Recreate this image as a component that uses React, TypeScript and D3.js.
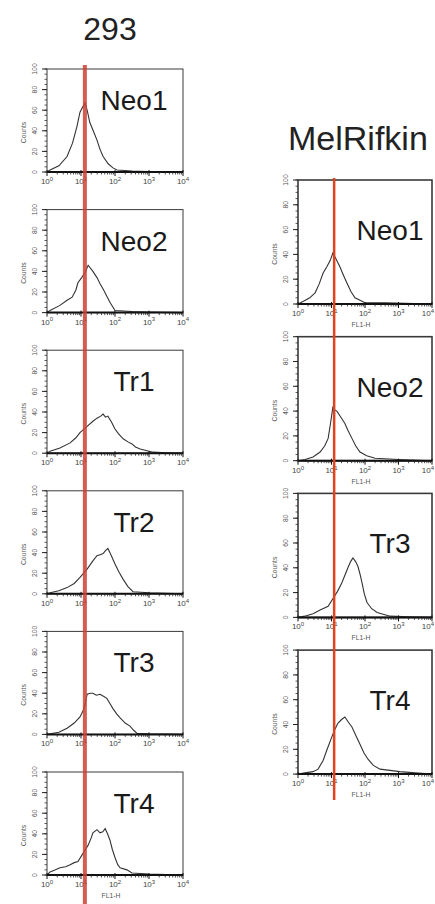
import React, { useRef, useEffect } from 'react';
import * as d3 from 'd3';

// panel names, column by column
const titles293 = ['Neo1', 'Neo2', 'Tr1', 'Tr2', 'Tr3', 'Tr4'];
const titlesMel = ['Neo1', 'Neo2', 'Tr3', 'Tr4'];

const xTickExps = [0, 1, 2, 3, 4];
const yTicks = [0, 20, 40, 60, 80, 100];

// marker (red line) position in FL1-H units
const gate293 = 13;
const gateMel = 12;

// histograms: [log10(FL1-H), counts]
const h293Neo1 = [[0, 0], [0.09, 2], [0.35, 6], [0.59, 15], [0.75, 28], [0.88, 44], [0.97, 58], [1.05, 63], [1.12, 67], [1.18, 60], [1.26, 48], [1.36, 40], [1.47, 31], [1.56, 22], [1.65, 15], [1.8, 8], [1.94, 4], [2.06, 2], [2.5, 1], [3, 0.5], [4, 0]];
const h293Neo2 = [[0, 0], [0.09, 2], [0.38, 7], [0.59, 12], [0.74, 15], [0.85, 22], [0.91, 29], [1.02, 34], [1.12, 39], [1.21, 46], [1.35, 40], [1.47, 34], [1.56, 28], [1.65, 23], [1.85, 10], [2.0, 2], [2.5, 1], [3, 0.5], [4, 0]];
const h293Tr1 = [[0, 0], [0.09, 2], [0.38, 5], [0.68, 10], [0.85, 15], [0.97, 20], [1.18, 26], [1.35, 31], [1.47, 34], [1.58, 36], [1.65, 38], [1.72, 35], [1.79, 36], [1.9, 30], [1.99, 24], [2.1, 19], [2.24, 14], [2.38, 11], [2.5, 9], [2.6, 6], [2.74, 4], [3.12, 1], [3.5, 0.5], [4, 0]];
const h293Tr2 = [[0, 0], [0.09, 1], [0.35, 3], [0.59, 6], [0.8, 10], [0.97, 16], [1.18, 24], [1.35, 32], [1.47, 37], [1.56, 38], [1.65, 39], [1.72, 42], [1.79, 44], [1.88, 38], [2.0, 29], [2.12, 21], [2.24, 14], [2.38, 7], [2.53, 2], [3, 1], [4, 0]];
const h293Tr3 = [[0, 0], [0.09, 0.5], [0.35, 2], [0.59, 6], [0.8, 11], [0.97, 17], [1.06, 23], [1.12, 29], [1.18, 39], [1.27, 40], [1.35, 40], [1.45, 38], [1.56, 39], [1.66, 37], [1.76, 35], [1.85, 30], [1.94, 25], [2.05, 20], [2.15, 16], [2.3, 11], [2.44, 8], [2.55, 4], [2.65, 1], [3, 0.5], [4, 0]];
const h293Tr4 = [[0, 0], [0.09, 3], [0.25, 5], [0.38, 7], [0.55, 8], [0.68, 10], [0.8, 12], [0.91, 13], [1.06, 21], [1.21, 29], [1.3, 36], [1.35, 41], [1.47, 44], [1.56, 41], [1.64, 42], [1.71, 45], [1.78, 40], [1.85, 34], [1.92, 25], [2.0, 17], [2.08, 10], [2.15, 7], [2.35, 5], [2.5, 2], [3, 1], [3.5, 0.5], [4, 0]];

const hMelNeo1 = [[0, 0], [0.15, 2], [0.35, 5], [0.51, 9], [0.63, 16], [0.75, 25], [0.86, 30], [0.96, 35], [1.04, 41], [1.14, 36], [1.25, 30], [1.36, 23], [1.46, 17], [1.58, 10], [1.7, 5], [2.0, 1], [2.6, 1], [3.2, 0.5], [4, 0]];
const hMelNeo2 = [[0, 0], [0.21, 1], [0.45, 3], [0.66, 7], [0.8, 12], [0.9, 18], [0.97, 30], [1.04, 43], [1.1, 41], [1.16, 40], [1.28, 35], [1.4, 30], [1.5, 24], [1.61, 18], [1.72, 12], [1.85, 7], [2.05, 4], [2.3, 2], [3.0, 1], [4, 0]];
const hMelTr3 = [[0, 0], [0.2, 1], [0.45, 3], [0.66, 6], [0.9, 9], [1.04, 15], [1.18, 21], [1.31, 28], [1.4, 34], [1.49, 40], [1.57, 45], [1.64, 48], [1.72, 45], [1.79, 41], [1.85, 35], [1.91, 28], [1.98, 19], [2.06, 12], [2.2, 7], [2.36, 4], [2.75, 1], [3.3, 0.5], [4, 0]];
const hMelTr4 = [[0, 0], [0.21, 1], [0.45, 2], [0.6, 4], [0.75, 11], [0.87, 20], [1.01, 30], [1.1, 36], [1.19, 41], [1.3, 44], [1.4, 46], [1.5, 42], [1.61, 38], [1.73, 31], [1.85, 24], [1.97, 17], [2.09, 12], [2.25, 7], [2.45, 4], [3.04, 2], [3.5, 1], [4, 0]];

const data293 = [h293Neo1, h293Neo2, h293Tr1, h293Tr2, h293Tr3, h293Tr4];
const dataMel = [hMelNeo1, hMelNeo2, hMelTr3, hMelTr4];

const FONT = 'Liberation Sans, Arial, sans-serif';

function drawPanel(svg, opts) {
  const { left, right, top, bottom, curve, name, nameX, nameY, tickFont, frameW, showXTitle, clampLast } = opts;
  const x = d3.scaleLog().domain([1, 1e4]).range([left, right]);
  const y = d3.scaleLinear().domain([0, 100]).range([bottom, top]);
  const g = svg.append('g');

  // frame
  g.append('rect')
    .attr('x', left).attr('y', top)
    .attr('width', right - left).attr('height', bottom - top)
    .attr('fill', 'none').attr('stroke', '#3a3a3a').attr('stroke-width', frameW);

  // histogram trace
  const line = d3.line()
    .x(d => x(Math.pow(10, d[0])))
    .y(d => y(d[1]));
  g.append('path')
    .datum(curve)
    .attr('d', line)
    .attr('fill', 'none')
    .attr('stroke', '#333')
    .attr('stroke-width', 1.1);

  // bottom axis: thick base plus log ticks
  g.append('line')
    .attr('x1', left).attr('x2', right).attr('y1', bottom).attr('y2', bottom)
    .attr('stroke', '#111').attr('stroke-width', 2);
  const minor = [];
  for (let e = 0; e < 4; e++) for (let m = 2; m < 10; m++) minor.push(m * Math.pow(10, e));
  g.selectAll(null).data(minor).join('line')
    .attr('x1', d => x(d)).attr('x2', d => x(d))
    .attr('y1', bottom).attr('y2', bottom + 2.5)
    .attr('stroke', '#222').attr('stroke-width', 0.8);
  g.selectAll(null).data(xTickExps).join('line')
    .attr('x1', d => x(Math.pow(10, d))).attr('x2', d => x(Math.pow(10, d)))
    .attr('y1', bottom - 2).attr('y2', bottom + 4)
    .attr('stroke', '#111').attr('stroke-width', 1);
  const last = xTickExps[xTickExps.length - 1];
  const xl = g.selectAll(null).data(xTickExps).join('text')
    .attr('x', d => (clampLast && d === last ? x(Math.pow(10, d)) + 2 : x(Math.pow(10, d))))
    .attr('y', bottom + 12)
    .attr('text-anchor', d => (clampLast && d === last ? 'end' : 'middle'))
    .attr('font-family', FONT)
    .attr('font-size', tickFont)
    .attr('fill', '#444');
  xl.append('tspan').text('10');
  xl.append('tspan').attr('dy', -tickFont * 0.4).attr('font-size', tickFont * 0.75).text(d => d);

  if (showXTitle) {
    g.append('text')
      .attr('x', (left + right) / 2 - 4).attr('y', bottom + 23)
      .attr('text-anchor', 'middle')
      .attr('font-family', FONT).attr('font-size', tickFont * 0.85)
      .attr('fill', '#555')
      .text('FL1-H');
  }

  // left axis
  const yMinor = d3.range(0, 101, 5);
  g.selectAll(null).data(yMinor).join('line')
    .attr('x1', left).attr('x2', left - 2.5)
    .attr('y1', d => y(d)).attr('y2', d => y(d))
    .attr('stroke', '#333').attr('stroke-width', 0.8);
  g.selectAll(null).data(yTicks).join('line')
    .attr('x1', left).attr('x2', left - 5)
    .attr('y1', d => y(d)).attr('y2', d => y(d))
    .attr('stroke', '#222').attr('stroke-width', 1);
  g.selectAll(null).data(yTicks).join('text')
    .attr('transform', d => `translate(${left - 10},${y(d)}) rotate(-90)`)
    .attr('text-anchor', 'middle')
    .attr('font-family', FONT)
    .attr('font-size', tickFont * 0.85)
    .attr('fill', '#555')
    .text(d => d);
  g.append('text')
    .attr('transform', `translate(${left - 21},${(top + bottom) / 2 + 12}) rotate(-90)`)
    .attr('text-anchor', 'middle')
    .attr('font-family', FONT)
    .attr('font-size', tickFont * 0.85)
    .attr('fill', '#555')
    .text('Counts');

  // panel name
  g.append('text')
    .attr('x', nameX).attr('y', nameY)
    .attr('text-anchor', 'middle')
    .attr('font-family', FONT)
    .attr('font-size', 28)
    .attr('fill', '#1a1a1a')
    .text(name);

  return x;
}

export default function App() {
  const ref = useRef(null);

  useEffect(() => {
    const svg = d3.select(ref.current);
    svg.selectAll('*').remove();

    const width = 435;
    const height = 904;
    svg.attr('width', width).attr('height', height);
    svg.append('rect').attr('width', width).attr('height', height).attr('fill', '#fff');

    // column titles
    svg.append('text')
      .attr('x', 110).attr('y', 40)
      .attr('text-anchor', 'middle')
      .attr('font-family', FONT).attr('font-size', 32)
      .attr('fill', '#222')
      .text('293');
    svg.append('text')
      .attr('x', 288).attr('y', 150)
      .attr('font-family', FONT).attr('font-size', 34)
      .attr('fill', '#222')
      .text('MelRifkin');

    // 293 column
    let xLeft;
    data293.forEach((curve, i) => {
      const top = 69 + i * 140.6;
      xLeft = drawPanel(svg, {
        left: 47, right: 183, top, bottom: top + 103,
        curve, name: titles293[i], nameX: 134, nameY: top + 41,
        tickFont: 8, frameW: 1, showXTitle: i === titles293.length - 1, clampLast: false,
      });
    });

    // MelRifkin column
    let xRight;
    dataMel.forEach((curve, i) => {
      const top = 180 + i * 156.7;
      xRight = drawPanel(svg, {
        left: 298, right: 432, top, bottom: top + 124,
        curve, name: titlesMel[i], nameX: 390, nameY: top + 60,
        tickFont: 8, frameW: 1.6, showXTitle: true, clampLast: true,
      });
    });

    // red marker lines
    svg.append('line')
      .attr('x1', xLeft(gate293)).attr('x2', xLeft(gate293))
      .attr('y1', 65).attr('y2', 904)
      .attr('stroke', '#cf3f35').attr('stroke-opacity', 0.85).attr('stroke-width', 4);
    svg.append('line')
      .attr('x1', xRight(gateMel)).attr('x2', xRight(gateMel))
      .attr('y1', 178).attr('y2', 800)
      .attr('stroke', '#e2431f').attr('stroke-width', 2.5);
  }, []);

  return <svg ref={ref} style={{ position: 'absolute', left: 0, top: 0, display: 'block' }} />;
}
